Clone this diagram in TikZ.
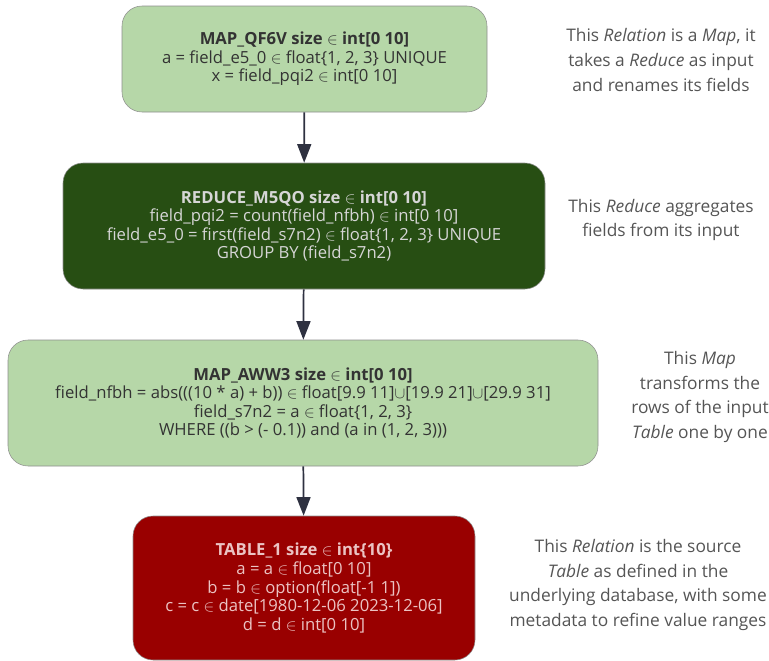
\documentclass[tikz,border=0pt]{standalone}
\usepackage{fontspec}
\setmainfont{Open Sans}
\usetikzlibrary{positioning,arrows.meta}
\definecolor{lightgreen}{HTML}{B6D7A8}
\definecolor{darkgreen}{HTML}{274E13}
\definecolor{darkred}{HTML}{990000}
\definecolor{edgegray}{HTML}{8E8E8E}
\definecolor{arrowgray}{HTML}{2E3140}
\definecolor{notegray}{HTML}{555555}
\definecolor{lighttext}{HTML}{333333}
\definecolor{greentext}{HTML}{D6D6D6}
\definecolor{redtext}{HTML}{EBC3C3}
\tikzset{
  relnode/.style={rectangle, rounded corners=15pt, draw=edgegray, align=center, inner sep=0pt, font=\fontsize{12.5}{13.9}\selectfont},
  mapnode/.style={relnode, fill=lightgreen, text=lighttext},
  reducenode/.style={relnode, fill=darkgreen, text=greentext},
  tablenode/.style={relnode, fill=darkred, text=redtext},
  note/.style={align=center, text=notegray, font=\fontsize{13}{18.4}\selectfont},
  flow/.style={draw=arrowgray, line width=1.3pt, -{Triangle[length=14pt,width=10.5pt]}}
}

\begin{document}
\begin{tikzpicture}[x=0.75pt,y=-0.75pt]
\useasboundingbox (0,0) rectangle (769,661);
% relations, from the output down to the source table
\node[mapnode, minimum width=273.75pt, minimum height=79.5pt] (map_qf6v) at (304.5,59)
  {\textbf{MAP\_QF6V size $\in$ int[0 10]}\\
   a = field\_e5\_0 $\in$ float\{1, 2, 3\} UNIQUE\\
   x = field\_pqi2 $\in$ int[0 10]};
\node[reducenode, minimum width=361.5pt, minimum height=94.5pt] (reduce_m5qo) at (304,226)
  {\textbf{REDUCE\_M5QO size $\in$ int[0 10]}\\
   field\_pqi2 = count(field\_nfbh) $\in$ int[0 10]\\
   field\_e5\_0 = first(field\_s7n2) $\in$ float\{1, 2, 3\} UNIQUE\\
   GROUP BY (field\_s7n2)};
\node[mapnode, minimum width=442.5pt, minimum height=94.5pt] (map_aww3) at (303,403)
  {\textbf{MAP\_AWW3 size $\in$ int[0 10]}\\
   field\_nfbh = abs(((10 * a) + b)) $\in$ float[9.9 11]$\cup$[19.9 21]$\cup$[29.9 31]\\
   field\_s7n2 = a $\in$ float\{1, 2, 3\}\\
   WHERE ((b > (- 0.1)) and (a in (1, 2, 3)))};
\node[tablenode, minimum width=256.5pt, minimum height=108pt] (table_1) at (304,588)
  {\textbf{TABLE\_1 size $\in$ int\{10\}}\\
   a = a $\in$ float[0 10]\\
   b = b $\in$ option(float[-1 1])\\
   c = c $\in$ date[1980-12-06 2023-12-06]\\
   d = d $\in$ int[0 10]};

\draw[flow] (map_qf6v) -- (reduce_m5qo);
\draw[flow] (reduce_m5qo) -- (map_aww3);
\draw[flow] (map_aww3) -- (table_1);

% notes
\node[note] (note_map_qf6v) at (661,60)
  {This \textit{Relation} is a \textit{Map}, it\\ takes a \textit{Reduce} as input\\ and renames its fields};
\node[note] (note_reduce_m5qo) at (661,220)
  {This \textit{Reduce} aggregates\\ fields from its input};
\node[note] (note_map_aww3) at (700,397)
  {This \textit{Map}\\ transforms the\\ rows of the input\\ \textit{Table} one by one};
\node[note] (note_table_1) at (638,585)
  {This \textit{Relation} is the source\\ \textit{Table} as defined in the\\ underlying database, with some\\ metadata to refine value ranges};
\end{tikzpicture}
\end{document}
